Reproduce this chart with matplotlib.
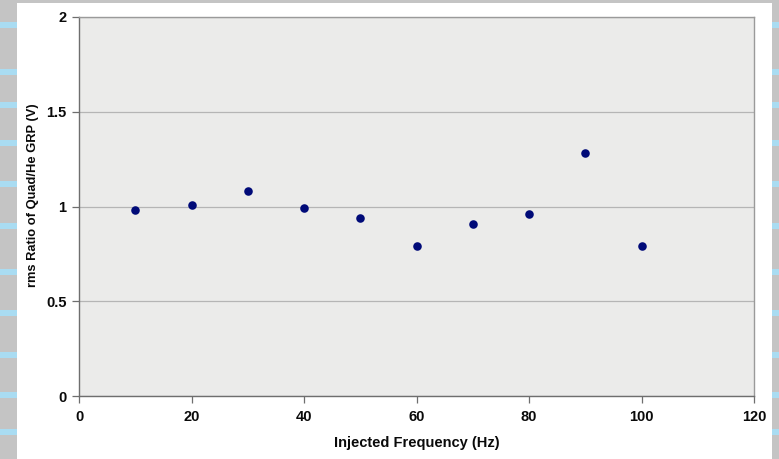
import matplotlib
matplotlib.use("Agg")
import matplotlib.pyplot as plt
from matplotlib.patches import Rectangle

# Data
freq_hz = [10, 20, 30, 40, 50, 60, 70, 80, 90, 100]
rms_ratio = [0.98, 1.01, 1.08, 0.99, 0.94, 0.79, 0.91, 0.96, 1.28, 0.79]
x_ticks = [0, 20, 40, 60, 80, 100, 120]
y_ticks = [0, 0.5, 1, 1.5, 2]
y_tick_labels = ["0", "0.5", "1", "1.5", "2"]
x_label = "Injected Frequency (Hz)"
y_label = "rms Ratio of Quad/He GRP (V)"

W, H = 779, 459
fig = plt.figure(figsize=(W / 100, H / 100), dpi=100)
fig.patch.set_facecolor("#c4c4c4")

# Slide background stripes (left and right margins)
stripe_y = [25, 72, 105, 143, 184, 226, 272, 313, 355, 395, 432]
for sy in stripe_y:
    fig.patches.append(Rectangle((0, 1 - (sy + 3) / H), 1, 6 / H,
                                 transform=fig.transFigure, facecolor="#a9dcf2",
                                 edgecolor="none", zorder=0))
# White chart panel
fig.patches.append(Rectangle((17 / W, 0), (772 - 17) / W, 1 - 3 / H,
                             transform=fig.transFigure, facecolor="white",
                             edgecolor="none", zorder=1))

ax = fig.add_axes([79 / W, 1 - 396 / H, (754 - 79) / W, (396 - 17) / H])
ax.set_facecolor("#ebebea")
ax.set_zorder(2)

ax.scatter(freq_hz, rms_ratio, s=38, color="#000a78", zorder=3, linewidths=0)

ax.set_xlim(0, 120)
ax.set_ylim(0, 2)
ax.set_xticks(x_ticks)
ax.set_yticks(y_ticks)
ax.set_yticklabels(y_tick_labels)

ax.grid(axis="y", color="#b5b5b5", linewidth=0.9)
ax.set_axisbelow(True)

for side in ["top", "right"]:
    ax.spines[side].set_color("#9a9a9a")
    ax.spines[side].set_linewidth(1.0)
for side in ["left", "bottom"]:
    ax.spines[side].set_color("#6e6e6e")
    ax.spines[side].set_linewidth(1.0)

fam = ["Liberation Sans", "DejaVu Sans"]
ax.tick_params(axis="both", direction="out", length=5, width=0.9, color="#6e6e6e",
               labelsize=10.5, labelcolor="#0a0a0a")
ax.tick_params(axis="x", pad=5)
ax.tick_params(axis="y", pad=4)
for lab in ax.get_xticklabels() + ax.get_yticklabels():
    lab.set_fontfamily(fam)
    lab.set_fontweight("bold")

ax.set_xlabel(x_label, fontsize=10.5, color="#0a0a0a", family=fam, weight="bold")
ax.set_ylabel(y_label, fontsize=9.3, color="#0a0a0a", family=fam, weight="bold")
ax.xaxis.set_label_coords(0.5, -(443 - 396) / 379, transform=ax.transAxes)
ax.xaxis.label.set_va("center")
ax.yaxis.set_label_coords((33 - 79) / 675, (396 - 195) / 379, transform=ax.transAxes)
ax.yaxis.label.set_va("center")

fig.savefig("out.png", dpi=100, facecolor=fig.get_facecolor())
